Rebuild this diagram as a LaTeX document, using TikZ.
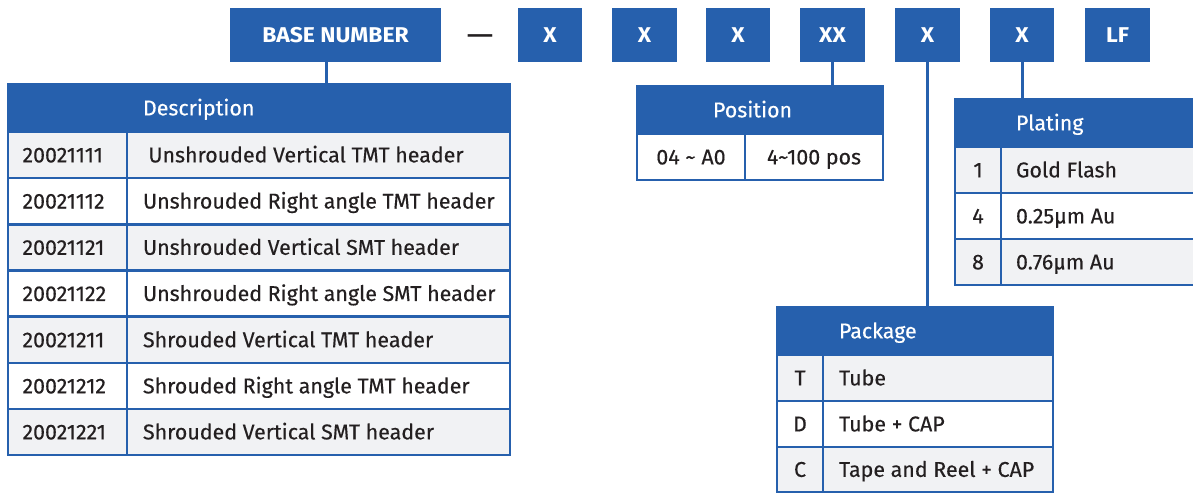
\documentclass[tikz,border=0pt]{standalone}
\usepackage{fontspec}
\usepackage{graphicx}
\setmainfont{Fira Sans}[UprightFeatures={FakeBold=0.3}]
\definecolor{bblue}{HTML}{2660AD}
\definecolor{rowgray}{HTML}{F1F2F4}
\definecolor{txt}{HTML}{231F20}
\tikzset{
  base/.style={outer sep=0pt, inner ysep=0pt, line width=2.6pt, draw=bblue,
    font=\fontsize{21.4}{25}\selectfont, text height=14.75pt, text depth=0pt},
  hdr/.style={base, fill=bblue, text=white},
  gc/.style={base, fill=rowgray, text=txt},
  wc/.style={base, fill=white, text=txt},
  topbox/.style={fill=bblue, text=white, outer sep=0pt, inner sep=0pt,
    font=\fontsize{21.4}{25}\selectfont\bfseries, text height=14.75pt, text depth=0pt},
  conn/.style={draw=bblue, line width=3pt}
}
% #1 name, #2 x1, #3 y1, #4 x2, #5 y2, #6 style, #7 xsep, #8 align (l/c), #9 text
\newcommand\tc[9]{%
  \pgfmathsetmacro\tcw{(#4)-(#2)}%
  \pgfmathsetmacro\tch{(#5)-(#3)}%
  \pgfmathsetmacro\tctw{\tcw-2*(#7)}%
  \pgfmathsetmacro\tcx{((#2)+(#4))/2}%
  \pgfmathsetmacro\tcy{((#3)+(#5))/2}%
  \node[#6, inner xsep=#7pt, minimum width=\tcw pt, minimum height=\tch pt]
    (#1) at (\tcx,\tcy) {\makebox[\tctw pt][#8]{#9}};}
\newcommand\tb[6]{%
  \pgfmathsetmacro\tcw{(#4)-(#2)}%
  \pgfmathsetmacro\tch{(#5)-(#3)}%
  \pgfmathsetmacro\tcx{((#2)+(#4))/2}%
  \pgfmathsetmacro\tcy{((#3)+(#5))/2}%
  \node[topbox, minimum width=\tcw pt, minimum height=\tch pt] (#1) at (\tcx,\tcy) {\scalebox{1.07}[1]{#6}};}
\begin{document}
\begin{tikzpicture}[x=1pt,y=-1pt]
\useasboundingbox (0,0) rectangle (1193,493);
% top code boxes
\tb{bn}{230}{8}{441}{62}{BASE NUMBER}
\node[font=\fontsize{21}{25}\selectfont\bfseries, text=txt, inner sep=0pt] (dash) at (480,38.5) {\scalebox{1.55}[1]{—}};
\tb{c1}{518}{8}{582}{62}{X}
\tb{c2}{612}{8}{677}{62}{X}
\tb{c3}{706}{8}{770}{62}{X}
\tb{c4}{800}{8}{865}{62}{XX}
\tb{c5}{895}{8}{960}{62}{X}
\tb{c6}{990}{8}{1054}{62}{X}
\tb{c7}{1085}{8}{1150}{62}{LF}
% Description table
\tc{dh}{8}{84}{510}{132}{hdr}{135}{l}{Description}
\tc{d1a}{8}{132}{127}{178}{gc}{14.5}{l}{20021111}
\tc{d1b}{127}{132}{510}{178}{gc}{16}{l}{\hspace*{0.25em}Unshrouded Vertical TMT header}
\tc{d2a}{8}{178}{127}{224.3}{wc}{14.5}{l}{20021112}
\tc{d2b}{127}{178}{510}{224.3}{wc}{16}{l}{Unshrouded Right angle TMT header}
\tc{d3a}{8}{224.3}{127}{270.5}{gc}{14.5}{l}{20021121}
\tc{d3b}{127}{224.3}{510}{270.5}{gc}{16}{l}{Unshrouded Vertical SMT header}
\tc{d4a}{8}{270.5}{127}{316.7}{wc}{14.5}{l}{20021122}
\tc{d4b}{127}{270.5}{510}{316.7}{wc}{16}{l}{Unshrouded Right angle SMT header}
\tc{d5a}{8}{316.7}{127}{363}{gc}{14.5}{l}{20021211}
\tc{d5b}{127}{316.7}{510}{363}{gc}{16}{l}{Shrouded Vertical TMT header}
\tc{d6a}{8}{363}{127}{409}{wc}{14.5}{l}{20021212}
\tc{d6b}{127}{363}{510}{409}{wc}{16}{l}{Shrouded Right angle TMT header}
\tc{d7a}{8}{409}{127}{455}{gc}{14.5}{l}{20021221}
\tc{d7b}{127}{409}{510}{455}{gc}{16}{l}{Shrouded Vertical SMT header}
% Position table
\tc{ph}{637}{86}{883}{134}{hdr}{76}{l}{Position}
\tc{p1a}{637}{134}{745}{180}{wc}{6}{c}{04 \textasciitilde{} A0}
\tc{p1b}{745}{134}{883}{180}{wc}{6}{c}{4\textasciitilde100 pos}
% Plating table
\tc{lh}{955}{99}{1215}{147}{hdr}{61}{l}{Plating}
\tc{l1a}{955}{147}{1001}{193}{gc}{4}{c}{1}
\tc{l1b}{1001}{147}{1215}{193}{gc}{15}{l}{Gold Flash}
\tc{l2a}{955}{193}{1001}{239}{wc}{4}{c}{4}
\tc{l2b}{1001}{193}{1215}{239}{wc}{15}{l}{0.25µm Au}
\tc{l3a}{955}{239}{1001}{285}{gc}{4}{c}{8}
\tc{l3b}{1001}{239}{1215}{285}{gc}{15}{l}{0.76µm Au}
% Package table
\tc{kh}{777}{307}{1053}{355}{hdr}{62}{l}{Package}
\tc{k1a}{777}{355}{823}{401}{gc}{4}{c}{T}
\tc{k1b}{823}{355}{1053}{401}{gc}{16}{l}{Tube}
\tc{k2a}{777}{401}{823}{447}{wc}{4}{c}{D}
\tc{k2b}{823}{401}{1053}{447}{wc}{16}{l}{Tube + CAP}
\tc{k3a}{777}{447}{823}{492}{gc}{4}{c}{C}
\tc{k3b}{823}{447}{1053}{492}{gc}{16}{l}{Tape and Reel + CAP}
% connectors
\draw[conn] ([xshift=-9.5pt]bn.south) -- ([xshift=-9.5pt]bn.south |- dh.north);
\draw[conn] (c4.south) -- (c4.south |- ph.north);
\draw[conn] (c5.south) -- (c5.south |- kh.north);
\draw[conn] (c6.south) -- (c6.south |- lh.north);
\end{tikzpicture}
\end{document}
